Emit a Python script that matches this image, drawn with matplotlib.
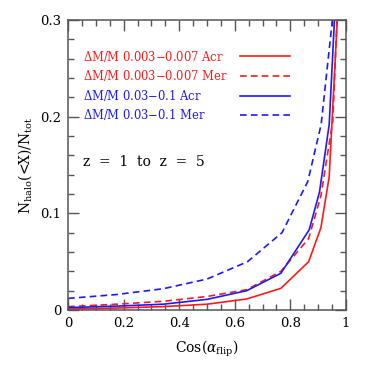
import matplotlib
matplotlib.use("Agg")
import matplotlib.pyplot as plt
from matplotlib.ticker import MultipleLocator

plt.rcParams['font.family'] = 'DejaVu Serif'
plt.rcParams['mathtext.fontset'] = 'dejavuserif'

# cos(alpha_flip) sample points and cumulative fractions
x_red_acr = [0.0, 0.174, 0.342, 0.5, 0.643, 0.766, 0.866, 0.91, 0.94, 0.985]
y_red_acr = [0.001, 0.002, 0.0035, 0.006, 0.0114, 0.0224, 0.050, 0.085, 0.138, 0.39]

x_red_mer = [0.0, 0.174, 0.342, 0.5, 0.643, 0.766, 0.866, 0.91, 0.953, 0.985]
y_red_mer = [0.0035, 0.006, 0.009, 0.014, 0.021, 0.040, 0.074, 0.118, 0.196, 0.42]

x_blue_acr = [0.0, 0.174, 0.342, 0.5, 0.643, 0.766, 0.868, 0.905, 0.94, 0.985]
y_blue_acr = [0.0025, 0.004, 0.006, 0.011, 0.020, 0.038, 0.083, 0.122, 0.192, 0.45]

x_blue_mer = [0.0, 0.174, 0.342, 0.5, 0.646, 0.77, 0.863, 0.911, 0.985]
y_blue_mer = [0.012, 0.016, 0.022, 0.032, 0.050, 0.080, 0.133, 0.192, 0.39]

x_ticks = [0, 0.2, 0.4, 0.6, 0.8, 1]
x_ticklabels = ['0', '0.2', '0.4', '0.6', '0.8', '1']
y_ticks = [0, 0.1, 0.2, 0.3]
y_ticklabels = ['0', '0.1', '0.2', '0.3']

labels = [r'$\Delta$M/M 0.003$-$0.007 Acr',
          r'$\Delta$M/M 0.003$-$0.007 Mer',
          r'$\Delta$M/M 0.03$-$0.1 Acr',
          r'$\Delta$M/M 0.03$-$0.1 Mer']
colors = ['#ff1a1a', '#ff1a1a', '#1a1aff', '#1a1aff']
styles = ['-', '--', '-', '--']

fig = plt.figure(figsize=(3.66, 3.66), dpi=100)
ax = fig.add_axes([0.186, 0.153, 0.759, 0.792])

series = [(x_red_acr, y_red_acr), (x_red_mer, y_red_mer),
          (x_blue_acr, y_blue_acr), (x_blue_mer, y_blue_mer)]
for (xs, ys), c, ls in zip(series, colors, styles):
    ax.plot(xs, ys, color=c, ls=ls, lw=1.2, dashes=(4, 2.5) if ls == '--' else (None, None))

ax.set_xticks(x_ticks)
ax.set_xticklabels(x_ticklabels)
ax.set_yticks(y_ticks)
ax.set_yticklabels(y_ticklabels)
ax.xaxis.set_minor_locator(MultipleLocator(0.05))
ax.yaxis.set_minor_locator(MultipleLocator(0.02))
ax.set_xlim(0, 1)
ax.set_ylim(0, 0.3)
ax.tick_params(which='both', direction='in', top=True, right=True,
               color='#555555', labelsize=9.5, width=1)
ax.tick_params(which='major', length=8, pad=5)
ax.tick_params(which='minor', length=4)
for s in ax.spines.values():
    s.set_color('#555555')
    s.set_linewidth(1.1)

ax.set_xlabel(r'Cos($\alpha_{\rm flip}$)', fontsize=10, labelpad=6)
ax.set_ylabel(r'N$_{\rm halo}$(<X)/N$_{\rm tot}$', fontsize=10, labelpad=4)

# legend drawn by hand: text then a short line sample
row_y = [0.875, 0.808, 0.739, 0.673]
for lab, c, ls, yy in zip(labels, colors, styles, row_y):
    ax.text(0.055, yy, lab, color=c, fontsize=8.3, transform=ax.transAxes,
            va='center', ha='left')
    ax.plot([0.62, 0.80], [yy, yy], color=c, lw=1.2, transform=ax.transAxes,
            dashes=(4, 2.5) if ls == '--' else (None, None))

ax.text(0.055, 0.51, 'z  =  1  to  z  =  5', fontsize=10, transform=ax.transAxes,
        va='center', ha='left')

fig.savefig('out.png', dpi=100)
